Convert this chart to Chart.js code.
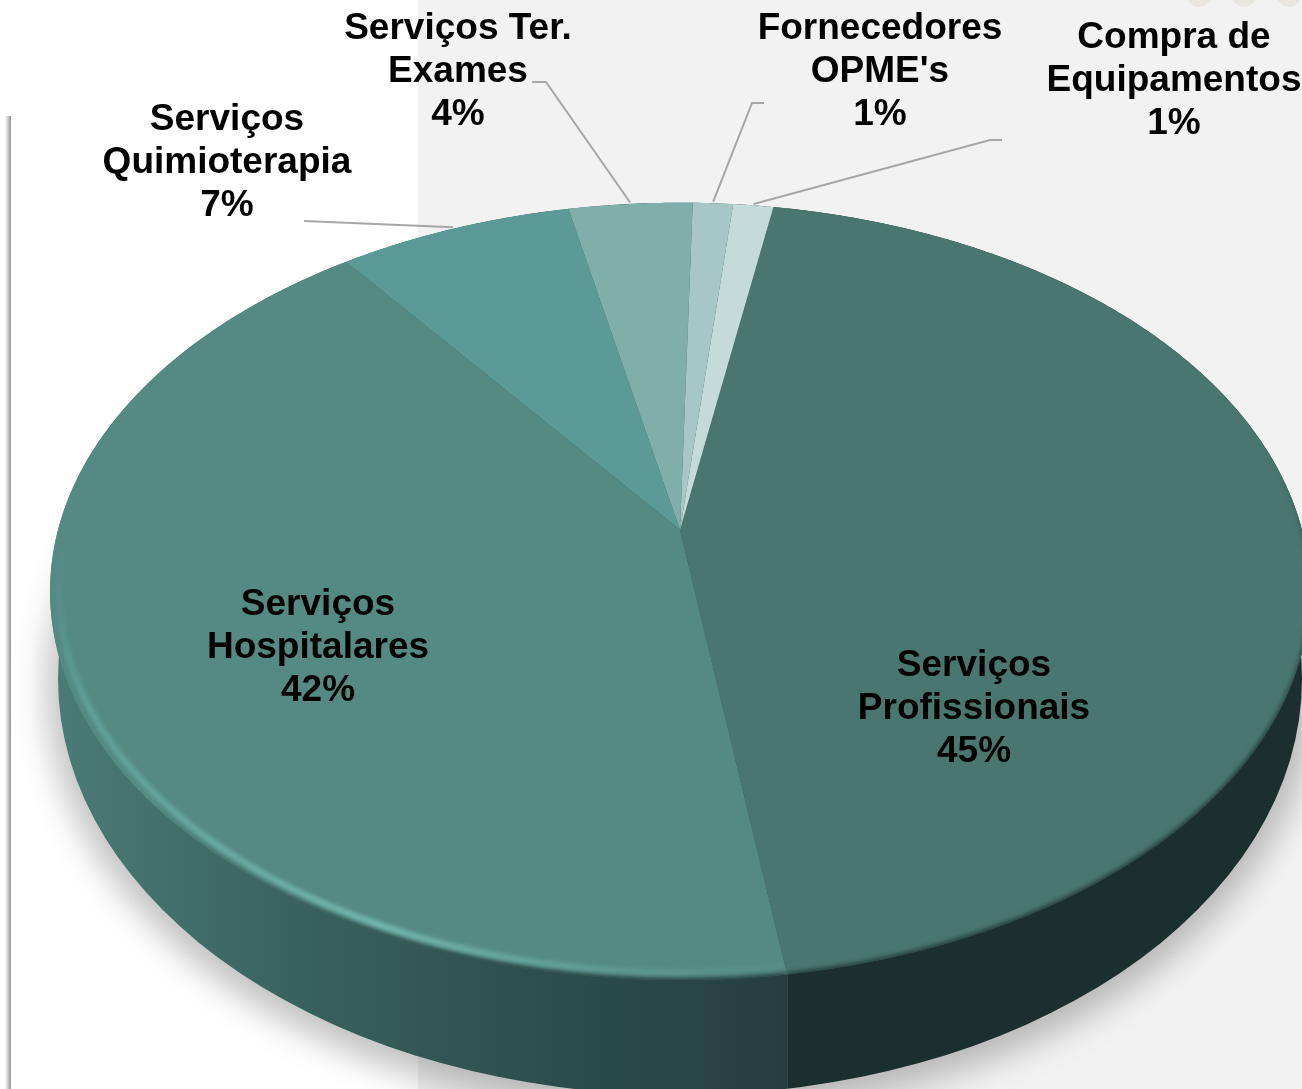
<!DOCTYPE html>
<html>
<head>
<meta charset="utf-8">
<title>Serviços</title>
<script src="https://cdn.jsdelivr.net/npm/chart.js@4/dist/chart.umd.js"></script>
<style>
  html, body { margin: 0; padding: 0; background: #fff; overflow: hidden; }
  canvas { display: block; }
</style>
</head>
<body>
<canvas id="pie" width="1302" height="1089"></canvas>
<script>
const categories = [
    ['Serviços', 'Profissionais'],
    ['Serviços', 'Hospitalares'],
    ['Serviços', 'Quimioterapia'],
    ['Serviços Ter.', 'Exames'],
    ['Fornecedores', "OPME's"],
    ['Compra de', 'Equipamentos']
];
const values = [44.9, 42, 7, 3.7, 1.2, 1.2];
const sliceColors = ['#49776f', '#558a83', '#5c9a98', '#80aeab', '#a6c7c5', '#c4dbd9'];

// label centre x and first line y, same order as categories
const labelX = [974, 318, 227, 458, 880, 1174];
const labelY = [666, 605, 120, 29, 29, 38];
// where each leader leaves its label, null = label sits on the slice
const leaderElbow = [null, null, [304, 221], [546, 82], [752, 103], [990, 140]];
const leaderTail = [null, null, null, [532, 82], [764, 103], [1002, 140]];

// perspective of the disc: apex of the slices, widths, tilt
const apex = { x: 680, y: 530 };
const spreadX = 622, spreadY = 379, tilt = 0.158;
const foot = { x: 680, y: 679, rx: 622, ry: 416 };

function project(angle, r = 1) {
    const X = Math.cos(angle) * r, Y = Math.sin(angle) * r;
    const w = 1 - tilt * Y;
    return { x: apex.x + spreadX * X / w, y: apex.y + spreadY * Y / w };
}

function traceRim(ctx, a0, a1, r = 1, moveFirst = true) {
    const steps = Math.max(2, Math.ceil(Math.abs(a1 - a0) / 0.01));
    for (let i = 0; i <= steps; i++) {
        const p = project(a0 + (a1 - a0) * i / steps, r);
        if (i === 0 && moveFirst) ctx.moveTo(p.x, p.y);
        else ctx.lineTo(p.x, p.y);
    }
}

function traceSlice(ctx, a0, a1) {
    ctx.beginPath();
    ctx.moveTo(apex.x, apex.y);
    traceRim(ctx, a0, a1, 1, false);
    ctx.closePath();
}

function traceBody(ctx) {
    ctx.beginPath();
    ctx.ellipse(foot.x, foot.y, foot.rx, foot.ry, 0, 0, Math.PI * 2);
    ctx.closePath();
    traceRim(ctx, 0, Math.PI * 2);
    ctx.closePath();
}

function drawBackdrop(ctx) {
    ctx.fillStyle = '#fff';
    ctx.fillRect(0, 0, 1302, 1089);
    ctx.fillStyle = '#f2f2f2';
    ctx.fillRect(418, 0, 884, 1089);

    // frame line on the left
    const fade = ctx.createLinearGradient(5, 0, 11, 0);
    fade.addColorStop(0, 'rgba(150,150,150,0)');
    fade.addColorStop(1, 'rgba(150,150,150,1)');
    ctx.fillStyle = fade;
    ctx.fillRect(5, 116, 6, 973);

    ctx.fillStyle = '#e8e6df';
    [1199, 1244, 1289].forEach(x => {
        ctx.beginPath();
        ctx.arc(x, -5, 12, 0, Math.PI * 2);
        ctx.fill();
    });
}

function drawWall(ctx, arcs) {
    // soft cast shadow round the foot of the disc
    ctx.save();
    ctx.filter = 'blur(16px)';
    ctx.fillStyle = 'rgba(0,0,0,0.24)';
    ctx.beginPath();
    ctx.ellipse(foot.x, foot.y + 8, foot.rx + 12, foot.ry + 12, 0, 0, Math.PI * 2);
    ctx.fill();
    ctx.restore();

    const splitX = project(arcs[0].endAngle).x;
    const grad = ctx.createLinearGradient(60, 0, splitX, 0);
    grad.addColorStop(0, '#4a7b74');
    grad.addColorStop(0.35, '#38605b');
    grad.addColorStop(0.75, '#2a4a48');
    grad.addColorStop(1, '#263e40');

    ctx.save();
    traceBody(ctx);
    ctx.clip();
    ctx.fillStyle = grad;
    ctx.fillRect(0, 0, splitX, 1089);
    ctx.fillStyle = '#1c2f2f';
    ctx.fillRect(splitX, 0, 1302 - splitX, 1089);
    ctx.restore();
}

function drawFace(ctx, arcs) {
    arcs.forEach((arc, i) => {
        traceSlice(ctx, arc.startAngle, arc.endAngle);
        ctx.fillStyle = sliceColors[i];
        ctx.fill();
    });

    // soft dark edge where the face turns over into the wall
    const edgeTop = [450, 800], edgeLow = [760, 965];
    [0, 1].forEach(i => {
        const arc = arcs[i];
        ctx.save();
        traceSlice(ctx, arc.startAngle, arc.endAngle);
        ctx.clip();
        const edge = ctx.createLinearGradient(0, edgeTop[i], 0, edgeLow[i]);
        edge.addColorStop(0, 'rgba(28,47,47,0)');
        edge.addColorStop(1, 'rgba(28,47,47,0.9)');
        ctx.strokeStyle = edge;
        ctx.lineWidth = 6;
        ctx.filter = 'blur(2.5px)';
        ctx.beginPath();
        traceRim(ctx, arc.startAngle, arc.endAngle, 1.002);
        ctx.stroke();
        ctx.restore();
    });

    // light bevel on the lower left of the rim
    const hosp = arcs[1];
    ctx.save();
    traceSlice(ctx, hosp.startAngle, hosp.endAngle);
    ctx.clip();
    const shine = ctx.createLinearGradient(50, 560, 790, 980);
    shine.addColorStop(0, 'rgba(100,170,162,0)');
    shine.addColorStop(0.12, 'rgba(100,170,162,0.75)');
    shine.addColorStop(0.55, 'rgba(118,190,180,0.95)');
    shine.addColorStop(1, 'rgba(110,170,160,0.1)');
    ctx.strokeStyle = shine;
    ctx.lineWidth = 6;
    ctx.filter = 'blur(2px)';
    ctx.beginPath();
    traceRim(ctx, hosp.startAngle, Math.PI * 1.05, 0.986);
    ctx.stroke();
    ctx.restore();
}

function drawLeaders(ctx, arcs) {
    ctx.strokeStyle = '#a6a6a6';
    ctx.lineWidth = 2;
    arcs.forEach((arc, i) => {
        if (!leaderElbow[i]) return;
        const end = project((arc.startAngle + arc.endAngle) / 2, 1.005);
        ctx.beginPath();
        if (leaderTail[i]) ctx.moveTo(leaderTail[i][0], leaderTail[i][1]);
        else ctx.moveTo(leaderElbow[i][0], leaderElbow[i][1]);
        ctx.lineTo(leaderElbow[i][0], leaderElbow[i][1]);
        ctx.lineTo(end.x, end.y);
        ctx.stroke();
    });
}

function drawLabels(ctx) {
    const total = values.reduce((a, b) => a + b, 0);
    ctx.fillStyle = '#000';
    ctx.font = 'bold 37px "Liberation Sans", Arial, sans-serif';
    ctx.textAlign = 'center';
    ctx.textBaseline = 'middle';
    categories.forEach((lines, i) => {
        const rows = [...lines, Math.round(values[i] / total * 100) + '%'];
        rows.forEach((row, j) => ctx.fillText(row, labelX[i], labelY[i] + j * 43));
    });
}

const perspectivePie = {
    id: 'perspectivePie',
    beforeDatasetsDraw(chart) {
        const ctx = chart.ctx;
        const arcs = chart.getDatasetMeta(0).data;
        ctx.save();
        drawBackdrop(ctx);
        drawWall(ctx, arcs);
        drawFace(ctx, arcs);
        drawLeaders(ctx, arcs);
        drawLabels(ctx);
        ctx.restore();
        return false;
    }
};

new Chart(document.getElementById('pie'), {
    type: 'pie',
    data: {
        labels: categories,
        datasets: [{ data: values, backgroundColor: sliceColors, borderWidth: 0 }]
    },
    options: {
        responsive: false,
        animation: false,
        rotation: 10,
        plugins: { legend: { display: false }, tooltip: { enabled: false } }
    },
    plugins: [perspectivePie]
});
</script>
</body>
</html>
